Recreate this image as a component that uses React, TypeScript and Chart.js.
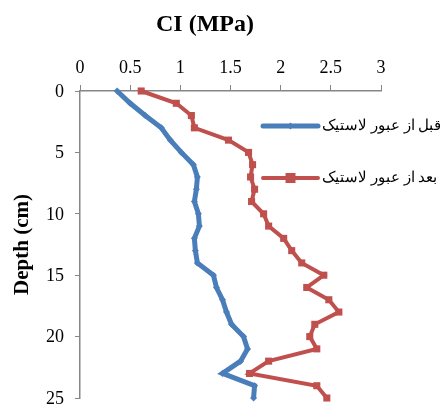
import React, { useEffect, useRef } from "react";
import { Chart, registerables } from "chart.js";

Chart.register(...registerables);

const depthCm = [0, 1, 2, 3, 4, 5, 6, 7, 8, 9, 10, 11, 12, 13, 14, 15, 16, 17, 18, 19, 20, 21, 22, 23, 24, 25];
const beforeCI = [0.37, 0.5, 0.65, 0.81, 0.9, 1.01, 1.13, 1.17, 1.16, 1.14, 1.18, 1.19, 1.14, 1.15, 1.17, 1.33, 1.36, 1.42, 1.46, 1.51, 1.63, 1.67, 1.6, 1.42, 1.74, 1.73];
const afterCI = [0.61, 0.96, 1.11, 1.14, 1.48, 1.68, 1.72, 1.7, 1.74, 1.71, 1.83, 1.88, 2.03, 2.11, 2.21, 2.43, 2.26, 2.48, 2.58, 2.34, 2.29, 2.36, 1.88, 1.69, 2.36, 2.46];
const xTickLabels = ["0", "0.5", "1", "1.5", "2", "2.5", "3"];
const yTickLabels = ["0", "5", "10", "15", "20", "25"];
const seriesLabels = ["قبل از عبور لاستیک", "بعد از عبور لاستیک"];
const seriesColors = ["#4A7EBB", "#C0504D"];
const chartTitle = "CI (MPa)";
const yTitle = "Depth (cm)";

const SERIF = '"Liberation Serif", "Times New Roman", serif';

const overlayPlugin = {
  id: "overlay",
  afterDraw(chart: any) {
    const ctx = chart.ctx as CanvasRenderingContext2D;
    const area = chart.chartArea;
    const ys = chart.scales.y;
    ctx.save();
    ctx.fillStyle = "#000";
    ctx.font = `bold 24px ${SERIF}`;
    ctx.textAlign = "center";
    ctx.textBaseline = "middle";
    ctx.fillText(chartTitle, 205, 25);

    // y tick labels
    ctx.font = `18px ${SERIF}`;
    ctx.textAlign = "right";
    ctx.textBaseline = "middle";
    ys.ticks.forEach((t: any) => {
      const label = yTickLabels.find((l) => Number(l) === t.value) ?? String(t.value);
      ctx.fillText(label, area.left - 16, ys.getPixelForValue(t.value) + 1);
    });

    const offsets = [35, 87];
    chart.data.datasets.forEach((ds: any, i: number) => {
      const y = area.top + offsets[i];
      const x0 = area.right - 118;
      const x1 = area.right - 63;
      ctx.strokeStyle = ds.borderColor;
      ctx.lineWidth = ds.borderWidth;
      ctx.lineCap = "round";
      ctx.beginPath();
      ctx.moveTo(x0, y);
      ctx.lineTo(x1, y);
      ctx.stroke();
      const cx = (x0 + x1) / 2;
      ctx.fillStyle = ds.backgroundColor;
      const r = ds.pointRadius;
      ctx.beginPath();
      if (ds.pointStyle === "rect") {
        ctx.rect(cx - r, y - r, 2 * r, 2 * r);
      } else {
        ctx.moveTo(cx, y - r);
        ctx.lineTo(cx + r, y);
        ctx.lineTo(cx, y + r);
        ctx.lineTo(cx - r, y);
        ctx.closePath();
      }
      ctx.fill();
      ctx.fillStyle = "#000";
      ctx.font = `15px ${SERIF}`;
      ctx.textAlign = "left";
      ctx.textBaseline = "middle";
      ctx.fillText(ds.label, x1 + 4, y);
    });
    ctx.restore();
  },
};

export default function App() {
  const ref = useRef<HTMLCanvasElement | null>(null);
  useEffect(() => {
    if (!ref.current) return;
    const chart = new Chart(ref.current, {
      type: "scatter",
      data: {
        datasets: [
          {
            label: seriesLabels[0],
            data: depthCm.map((d, i) => ({ x: beforeCI[i], y: d })),
            showLine: true,
            borderColor: seriesColors[0],
            backgroundColor: seriesColors[0],
            borderWidth: 5,
            pointStyle: "rectRot",
            pointRadius: 3.5,
            pointBorderWidth: 0,
            tension: 0,
            clip: false,
          },
          {
            label: seriesLabels[1],
            data: depthCm.map((d, i) => ({ x: afterCI[i], y: d })),
            showLine: true,
            borderColor: seriesColors[1],
            backgroundColor: seriesColors[1],
            borderWidth: 4,
            pointStyle: "rect",
            pointRadius: 5,
            pointBorderWidth: 0,
            tension: 0,
            clip: false,
          },
        ],
      },
      options: {
        responsive: false,
        animation: false,
        events: [],
        layout: { padding: { top: 0, right: 59, bottom: 12, left: 0 } },
        plugins: {
          legend: { display: false },
          title: { display: false },
          tooltip: { enabled: false },
        },
        scales: {
          x: {
            type: "linear",
            position: "top",
            min: 0,
            max: 3,
            afterFit: (s: any) => {
              s.height = 91;
              s.paddingLeft = 0;
              s.paddingRight = 0;
            },
            ticks: {
              stepSize: 0.5,
              color: "#000",
              font: { family: SERIF, size: 18 },
              padding: 6,
              maxRotation: 0,
              callback: (_v: any, i: number) => xTickLabels[i],
            },
            grid: { drawOnChartArea: false, drawTicks: true, tickLength: 6, color: "#868686" },
            border: { color: "#868686", width: 1.5 },
          },
          y: {
            type: "linear",
            reverse: true,
            min: 0,
            max: 25,
            afterFit: (s: any) => {
              s.width = 80;
              s.paddingTop = 0;
              s.paddingBottom = 0;
            },
            ticks: {
              stepSize: 5,
              display: false,
            },
            grid: { drawOnChartArea: false, drawTicks: true, tickLength: 5, color: "#868686" },
            border: { color: "#868686", width: 1.5 },
            title: {
              display: true,
              text: yTitle,
              color: "#000",
              font: { family: SERIF, size: 21, weight: "bold" },
              padding: { top: 10, bottom: 0 },
            },
          },
        },
      },
      plugins: [overlayPlugin],
    } as any);
    return () => chart.destroy();
  }, []);
  return (
    <div style={{ position: "fixed", left: 0, top: 0, width: 440, height: 410, background: "#fff" }}>
      <canvas ref={ref} width={440} height={410} />
    </div>
  );
}
